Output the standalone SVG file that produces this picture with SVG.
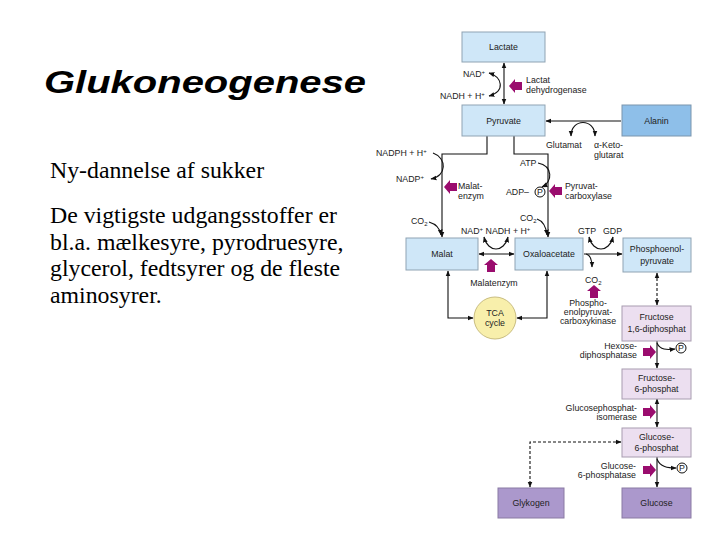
<svg xmlns="http://www.w3.org/2000/svg" width="720" height="540" viewBox="0 0 720 540">
<style>
.bx{fill:#cfe7f8;stroke:#8fa3b3;stroke-width:1}
.al{fill:#8ebfe9;stroke:#7b95ad;stroke-width:1}
.fp{fill:#ecdff0;stroke:#a89cb0;stroke-width:1}
.gp{fill:#ab98cc;stroke:#8a7aa3;stroke-width:1}
.t{font-family:"Liberation Sans",Arial,sans-serif;font-size:8.8px;fill:#222}
.c{text-anchor:middle}
.r{text-anchor:end}
.ln{fill:none;stroke:#111;stroke-width:1.1}
.d{stroke-dasharray:3,2}
.ma{fill:#9a0c6e}
.body{font-family:"Liberation Serif","Times New Roman",serif;font-size:23.8px;fill:#000}
</style>
<defs>
<marker id="a" viewBox="0 0 10 10" refX="9" refY="5" markerWidth="6" markerHeight="6" markerUnits="userSpaceOnUse" orient="auto-start-reverse"><path d="M0,1 L10,5 L0,9 z" fill="#111"/></marker>
<path id="m" d="M0,0 L6,-7 L6,-4 L13,-4 L13,4 L6,4 L6,7 Z"/>
</defs>
<rect width="720" height="540" fill="#fff"/>

<g id="title">
<text x="44" y="93" font-family="'Liberation Sans',Arial,sans-serif" font-weight="bold" font-style="italic" font-size="31" textLength="322" lengthAdjust="spacingAndGlyphs">Glukoneogenese</text>
</g>
<g id="bodytext">
<text class="body" x="50" y="178">Ny-dannelse af sukker</text>
<text class="body" x="50" y="223">De vigtigste udgangsstoffer er</text>
<text class="body" x="50" y="250">bl.a. mælkesyre, pyrodruesyre,</text>
<text class="body" x="50" y="276">glycerol, fedtsyrer og de fleste</text>
<text class="body" x="50" y="303">aminosyrer.</text>
</g>

<g id="connectors">
<path class="ln" d="M504,63 V104" marker-start="url(#a)" marker-end="url(#a)"/>
<path class="ln" d="M489,73 C502,77 506,91 489,96" marker-start="url(#a)" marker-end="url(#a)"/>
<path class="ln" d="M621,121 H546" marker-end="url(#a)"/>
<path class="ln" d="M571,136 C571,118 595,118 595,136" marker-start="url(#a)" marker-end="url(#a)"/>
<path class="ln" d="M487,136 V154 H442 V237" marker-end="url(#a)"/>
<path class="ln" d="M433,153 C447,158 447,176 431,179" marker-end="url(#a)"/>
<path class="ln" d="M429,222 C436,224 440,228 441,235" marker-end="url(#a)"/>
<path class="ln" d="M514,136 V154 H548 V237" marker-end="url(#a)"/>
<path class="ln" d="M538,163 C553,166 553,182 542,187" marker-end="url(#a)"/>
<path class="ln" d="M537,219 C543,221 546,226 547,235" marker-end="url(#a)"/>
<path class="ln" d="M479,254 H514" marker-start="url(#a)" marker-end="url(#a)"/>
<path class="ln" d="M484,237 C488,253 504,253 508,237" marker-start="url(#a)" marker-end="url(#a)"/>
<path class="ln" d="M584,254 H622" marker-end="url(#a)"/>
<path class="ln" d="M589,237 C593,253 609,253 613,237" marker-start="url(#a)" marker-end="url(#a)"/>
<path class="ln" d="M586,254 C591,255 592,260 592,267" marker-end="url(#a)"/>
<path class="ln" d="M448,271 V318 H473" marker-start="url(#a)" marker-end="url(#a)"/>
<path class="ln" d="M547,271 V318 H517" marker-start="url(#a)" marker-end="url(#a)"/>
<path class="ln d" d="M657,273 V305" marker-start="url(#a)" marker-end="url(#a)"/>
<path class="ln" d="M657,341 V368" marker-end="url(#a)"/>
<path class="ln" d="M657,343 C660,350 667,350 675,349" marker-end="url(#a)"/>
<path class="ln" d="M657,399 V427" marker-start="url(#a)" marker-end="url(#a)"/>
<path class="ln" d="M657,457 V487" marker-end="url(#a)"/>
<path class="ln" d="M657,459 C660,467 668,468 676,468" marker-end="url(#a)"/>
<path class="ln d" d="M621,442 H530 V487" marker-start="url(#a)" marker-end="url(#a)"/>
</g>

<g id="lactate"><rect class="bx" x="462" y="32" width="83" height="30"/><text class="t c" x="503.5" y="50">Lactate</text></g>
<g id="pyruvate"><rect class="bx" x="462" y="105" width="83" height="31"/><text class="t c" x="503.5" y="124">Pyruvate</text></g>
<g id="alanin"><rect class="al" x="622" y="105" width="69" height="31"/><text class="t c" x="656.5" y="124">Alanin</text></g>
<g id="malat"><rect class="bx" x="406" y="238" width="72" height="32"/><text class="t c" x="442" y="257">Malat</text></g>
<g id="oxaloacetate"><rect class="bx" x="515" y="238" width="68" height="32"/><text class="t c" x="549" y="257">Oxaloacetate</text></g>
<g id="pep"><rect class="bx" x="623" y="238" width="68" height="34"/><text class="t c" x="657" y="252">Phosphoenol-</text><text class="t c" x="657" y="264">pyruvate</text></g>
<g id="tca"><circle cx="495" cy="318" r="21" fill="#f8efab" stroke="#c9bd80"/><text class="t c" x="495" y="316">TCA</text><text class="t c" x="495" y="326">cycle</text></g>
<g id="f16"><rect class="fp" x="622" y="306" width="69" height="35"/><text class="t c" x="656.5" y="320">Fructose</text><text class="t c" x="656.5" y="332">1,6-diphosphat</text></g>
<g id="f6"><rect class="fp" x="622" y="369" width="69" height="30"/><text class="t c" x="656.5" y="381">Fructose-</text><text class="t c" x="656.5" y="392">6-phosphat</text></g>
<g id="g6"><rect class="fp" x="622" y="428" width="69" height="29"/><text class="t c" x="656.5" y="440">Glucose-</text><text class="t c" x="656.5" y="451">6-phosphat</text></g>
<g id="glykogen"><rect class="gp" x="498" y="488" width="66" height="30"/><text class="t c" x="531" y="506">Glykogen</text></g>
<g id="glucose"><rect class="gp" x="622" y="488" width="69" height="30"/><text class="t c" x="656.5" y="506">Glucose</text></g>

<g id="phosphates">
<circle cx="540" cy="192" r="5" fill="#fff" stroke="#111"/><text class="t c" x="540" y="195" font-size="8">P</text>
<circle cx="681" cy="348" r="5" fill="#fff" stroke="#111"/><text class="t c" x="681" y="351" font-size="8">P</text>
<circle cx="682" cy="468" r="5" fill="#fff" stroke="#111"/><text class="t c" x="682" y="471" font-size="8">P</text>
</g>

<g id="enzymes">
<use href="#m" class="ma" transform="translate(509,86)"/>
<use href="#m" class="ma" transform="translate(444,187)"/>
<use href="#m" class="ma" transform="translate(549,191)"/>
<use href="#m" class="ma" transform="translate(491,259) rotate(90)"/>
<use href="#m" class="ma" transform="translate(594,285) rotate(90)"/>
<use href="#m" class="ma" transform="translate(656,352) rotate(180)"/>
<use href="#m" class="ma" transform="translate(656,412) rotate(180)"/>
<use href="#m" class="ma" transform="translate(656,470) rotate(180)"/>
</g>

<g id="labels">
<text class="t" x="463" y="77">NAD<tspan font-size="6" dy="-3">+</tspan></text>
<text class="t" x="440" y="99">NADH + H<tspan font-size="6" dy="-3">+</tspan></text>
<text class="t" x="526" y="83">Lactat</text>
<text class="t" x="526" y="93">dehydrogenase</text>
<text class="t" x="546" y="148">Glutamat</text>
<text class="t" x="594" y="148">α-Keto-</text>
<text class="t" x="594" y="158">glutarat</text>
<text class="t" x="376" y="156">NADPH + H<tspan font-size="6" dy="-3">+</tspan></text>
<text class="t" x="396" y="182">NADP<tspan font-size="6" dy="-3">+</tspan></text>
<text class="t" x="458" y="189">Malat-</text>
<text class="t" x="458" y="199">enzym</text>
<text class="t" x="411" y="224">CO<tspan font-size="6" dy="2">2</tspan></text>
<text class="t" x="520" y="166">ATP</text>
<text class="t" x="506" y="195">ADP–</text>
<text class="t" x="565" y="189">Pyruvat-</text>
<text class="t" x="565" y="199">carboxylase</text>
<text class="t" x="520" y="221">CO<tspan font-size="6" dy="2">2</tspan></text>
<text class="t" x="461" y="234">NAD<tspan font-size="6" dy="-3">+</tspan><tspan dy="3"> NADH + H</tspan><tspan font-size="6" dy="-3">+</tspan></text>
<text class="t" x="578" y="234">GTP</text>
<text class="t" x="603" y="234">GDP</text>
<text class="t c" x="494" y="286">Malatenzym</text>
<text class="t" x="585" y="283">CO<tspan font-size="6" dy="2">2</tspan></text>
<text class="t c" x="588" y="306">Phospho-</text>
<text class="t c" x="588" y="315">enolpyruvat-</text>
<text class="t c" x="588" y="324">carboxykinase</text>
<text class="t r" x="637" y="349">Hexose-</text>
<text class="t r" x="637" y="358">diphosphatase</text>
<text class="t r" x="637" y="411">Glucosephosphat-</text>
<text class="t r" x="637" y="420">isomerase</text>
<text class="t r" x="636" y="469">Glucose-</text>
<text class="t r" x="636" y="478">6-phosphatase</text>
</g>
</svg>
